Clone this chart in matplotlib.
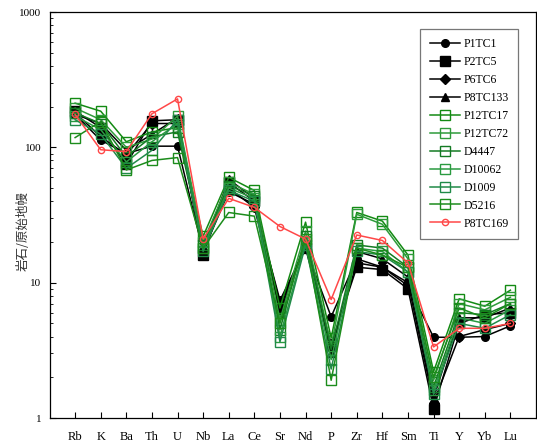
import matplotlib
matplotlib.use('Agg')
import matplotlib.pyplot as plt
from matplotlib.ticker import LogLocator, NullFormatter

elements = ['Rb', 'K', 'Ba', 'Th', 'U', 'Nb', 'La', 'Ce', 'Sr', 'Nd', 'P', 'Zr', 'Hf', 'Sm', 'Ti', 'Y', 'Yb', 'Lu']

# primitive-mantle normalised values
P1TC1 = [175, 113, 90, 102, 102, 17, 47, 38, 7.4, 18, 5.6, 15, 13, 9.5, 3.95, 3.95, 4.0, 4.8]
P2TC5 = [185, 140, 75, 157, 160, 16, 55, 40, 7.0, 18, 3.5, 13, 12.5, 9.0, 1.17, 5.0, 5.8, 6.0]
P6TC6 = [180, 120, 88, 150, 150, 17, 50, 36, 6.5, 19, 3.3, 14, 13, 10, 1.3, 4.0, 4.5, 5.0]
P8TC133 = [175, 150, 95, 125, 165, 18, 58, 42, 6.0, 20, 3.0, 17, 15, 11, 1.4, 5.5, 5.5, 6.5]
P12TC17 = [212, 185, 110, 130, 140, 22, 60, 48, 6.5, 28, 3.9, 33, 28.5, 16, 2.2, 7.6, 6.7, 8.8]
P12TC72 = [195, 160, 100, 115, 170, 20, 55, 45, 5.3, 24, 3.4, 32, 27, 15, 1.9, 7.0, 6.3, 7.8]
D4447 = [180, 150, 85, 120, 130, 19, 52, 44, 4.5, 22, 3.2, 19, 18, 13, 1.7, 6.0, 5.8, 7.0]
D10062 = [170, 135, 78, 110, 150, 18, 50, 42, 4.0, 20, 2.7, 18, 17, 12, 1.6, 5.5, 5.0, 6.3]
D1009 = [160, 125, 70, 95, 160, 17, 48, 40, 3.65, 19, 2.3, 17, 16, 12, 1.5, 5.0, 4.6, 5.8]
D5216 = [118, 155, 68, 80, 84, 18, 33, 31, 5.0, 21, 1.9, 18, 16, 13, 2.0, 6.5, 5.5, 7.0]
P8TC169 = [175, 96, 93, 177, 228, 21, 42, 36, 26, 21, 7.5, 22.5, 20.5, 14, 3.35, 4.6, 4.6, 5.0]

series = [
    ('P1TC1', P1TC1, 'black', 'o', 'black'),
    ('P2TC5', P2TC5, 'black', 's', 'black'),
    ('P6TC6', P6TC6, 'black', 'D', 'black'),
    ('P8TC133', P8TC133, 'black', '^', 'black'),
    ('P12TC17', P12TC17, '#138a13', 's', 'none'),
    ('P12TC72', P12TC72, '#2e9b3a', 's', 'none'),
    ('D4447', D4447, '#137a23', 's', 'none'),
    ('D10062', D10062, '#2a9a40', 's', 'none'),
    ('D1009', D1009, '#208a48', 's', 'none'),
    ('D5216', D5216, '#1c8c1c', 's', 'none'),
    ('P8TC169', P8TC169, '#ff4848', 'o', 'none'),
]

plt.rcParams['font.family'] = ['Liberation Serif', 'Noto Sans CJK SC']

fig = plt.figure(figsize=(5.37, 4.41), dpi=100)
ax = fig.add_axes([49.5 / 537, 1 - 418 / 441, (536 - 49.5) / 537, (418 - 12) / 441])

x = list(range(1, len(elements) + 1))
for name, vals, col, mk, face in series:
    ms = {'o': 5.5, 'D': 5, '^': 5.5, 's': 6.5}[mk]
    if name == 'P8TC169':
        ms = 4.5
    ax.plot(x, vals, color=col, lw=1.1, marker=mk, ms=ms,
            markerfacecolor=face, markeredgecolor=col, markeredgewidth=1.0, label=name)

ax.set_yscale('log')
ax.set_ylim(1, 1000)
ax.set_xlim(0, 19)
ax.set_xticks(x)
ax.set_xticklabels(elements, fontsize=9)
ax.set_yticks([1, 10, 100, 1000])
ax.set_yticklabels(['1', '10', '100', '1000'], fontsize=8)
ax.yaxis.set_minor_locator(LogLocator(base=10, subs=range(2, 10)))
ax.yaxis.set_minor_formatter(NullFormatter())
ax.tick_params(axis='both', which='major', direction='in', length=4, width=0.8)
ax.tick_params(axis='y', which='minor', direction='in', length=2, width=0.6)
ax.tick_params(axis='x', pad=9)
ax.tick_params(axis='y', pad=6)
for sp in ax.spines.values():
    sp.set_linewidth(0.9)

ax.set_ylabel('岩石/原始地幔', fontsize=9, family=['Noto Sans CJK SC', 'DejaVu Sans'], color='#333333')
ax.yaxis.set_label_coords(-0.04, 0.46)

leg = ax.legend(loc='upper left', bbox_to_anchor=(0.762, 0.958), fontsize=8.5, frameon=True,
                fancybox=False, edgecolor='#555555', labelspacing=0.5, handlelength=2.6,
                borderpad=0.8, handletextpad=0.25, borderaxespad=0)
leg.get_frame().set_linewidth(0.9)

fig.savefig('out.png', dpi=100)
